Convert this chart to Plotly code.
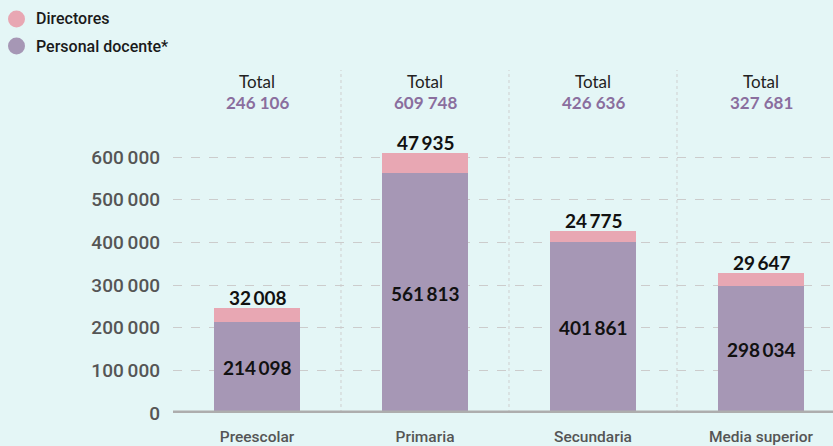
import plotly.graph_objects as go

categories = ["Preescolar", "Primaria", "Secundaria", "Media superior"]
docentes = [214098, 561813, 401861, 298034]
directores = [32008, 47935, 24775, 29647]
totales = [246106, 609748, 426636, 327681]
y_ticks = [0, 100000, 200000, 300000, 400000, 500000, 600000]
legend_names = ["Directores", "Personal docente*"]

PINK = "#E8A7B3"
PURPLE = "#A697B5"
BG = "#E4F6F6"
NUM_PURPLE = "#8A6E9E"

W, H = 833, 446
L, R, T, B = 173, 0, 62, 33
PW, PH = W - L - R, H - T - B


def px2x(px):
    return (px - L) / PW


def px2y(py):
    return (H - B - py) / PH


def fmt(v, sep="\u2009"):
    return f"{v:,}".replace(",", sep)


x = list(range(len(categories)))

fig = go.Figure()
fig.add_trace(go.Bar(x=x, y=docentes, marker_color=PURPLE, width=0.51,
                     showlegend=False, hoverinfo="skip", marker_line_width=0))
fig.add_trace(go.Bar(x=x, y=directores, marker_color=PINK, width=0.51,
                     showlegend=False, hoverinfo="skip", marker_line_width=0))

annotations = []
for i in x:
    annotations.append(dict(x=i, y=docentes[i] / 2, xref="x", yref="y",
                            text=f"<b>{fmt(docentes[i])}</b>", showarrow=False,
                            font=dict(family="Lato", size=19, color="#111")))
    annotations.append(dict(x=i, y=totales[i], xref="x", yref="y", yanchor="bottom",
                            text=f"<b>{fmt(directores[i])}</b>", showarrow=False,
                            yshift=-3,
                            font=dict(family="Lato", size=19, color="#111")))
    annotations.append(dict(x=i, y=px2y(82), xref="x", yref="paper", yanchor="middle",
                            text="Total", showarrow=False,
                            font=dict(family="Lato", size=17, color="#222")))
    annotations.append(dict(x=i, y=px2y(103), xref="x", yref="paper", yanchor="middle",
                            text=f"<b>{fmt(totales[i], ' ')}</b>", showarrow=False,
                            font=dict(family="Lato", size=17, color=NUM_PURPLE)))

shapes = []
for b in [0.5, 1.5, 2.5]:
    shapes.append(dict(type="line", xref="x", yref="paper", x0=b, x1=b, y0=0,
                       y1=px2y(70),
                       line=dict(color="#CFCFCF", width=1, dash="dot"), layer="below"))
shapes.append(dict(type="line", xref="paper", yref="y", x0=0, x1=1, y0=0, y1=0,
                   line=dict(color="#ADADAD", width=5), layer="above"))

# manual legend with circles
for k, (name, col) in enumerate(zip(legend_names, [PINK, PURPLE])):
    cy = 19 + 27 * k
    shapes.append(dict(type="circle", xref="paper", yref="paper",
                       x0=px2x(8), x1=px2x(25), y0=px2y(cy + 8.5), y1=px2y(cy - 8.5),
                       fillcolor=col, line=dict(width=0)))
    annotations.append(dict(x=px2x(34), y=px2y(cy), xref="paper", yref="paper",
                            xanchor="left", yanchor="middle", text=name, showarrow=False,
                            font=dict(family="Roboto", size=16, color="#1a1a1a",
                                      weight=500)))

fig.update_layout(
    width=W, height=H,
    barmode="stack",
    paper_bgcolor=BG, plot_bgcolor=BG,
    margin=dict(l=L, r=R, t=T, b=B, autoexpand=False),
    font=dict(family="Roboto", color="#555"),
    annotations=annotations,
    shapes=shapes,
    showlegend=False,
)
fig.update_xaxes(range=[-0.5, -0.5 + PW / 168], tickmode="array", tickvals=x,
                 ticktext=categories, showgrid=False, zeroline=False, showline=False,
                 tickfont=dict(family="Roboto", size=15.5, color="#555", weight=500),
                 ticks="", ticklabelstandoff=12, automargin=False)
fig.update_yaxes(range=[0, PH / 256 * 600000], tickmode="array", tickvals=y_ticks,
                 ticktext=[fmt(v) for v in y_ticks], showgrid=True,
                 gridcolor="#CCCCCC", griddash="dash", gridwidth=1, zeroline=False,
                 tickfont=dict(family="Roboto", size=19, color="#555", weight=500),
                 ticks="", ticklabelstandoff=12, automargin=False)

fig.write_html(
    "out.html",
    config={"displayModeBar": False},
    post_script="document.body.style.margin='0';document.body.style.background='%s';" % BG,
)
